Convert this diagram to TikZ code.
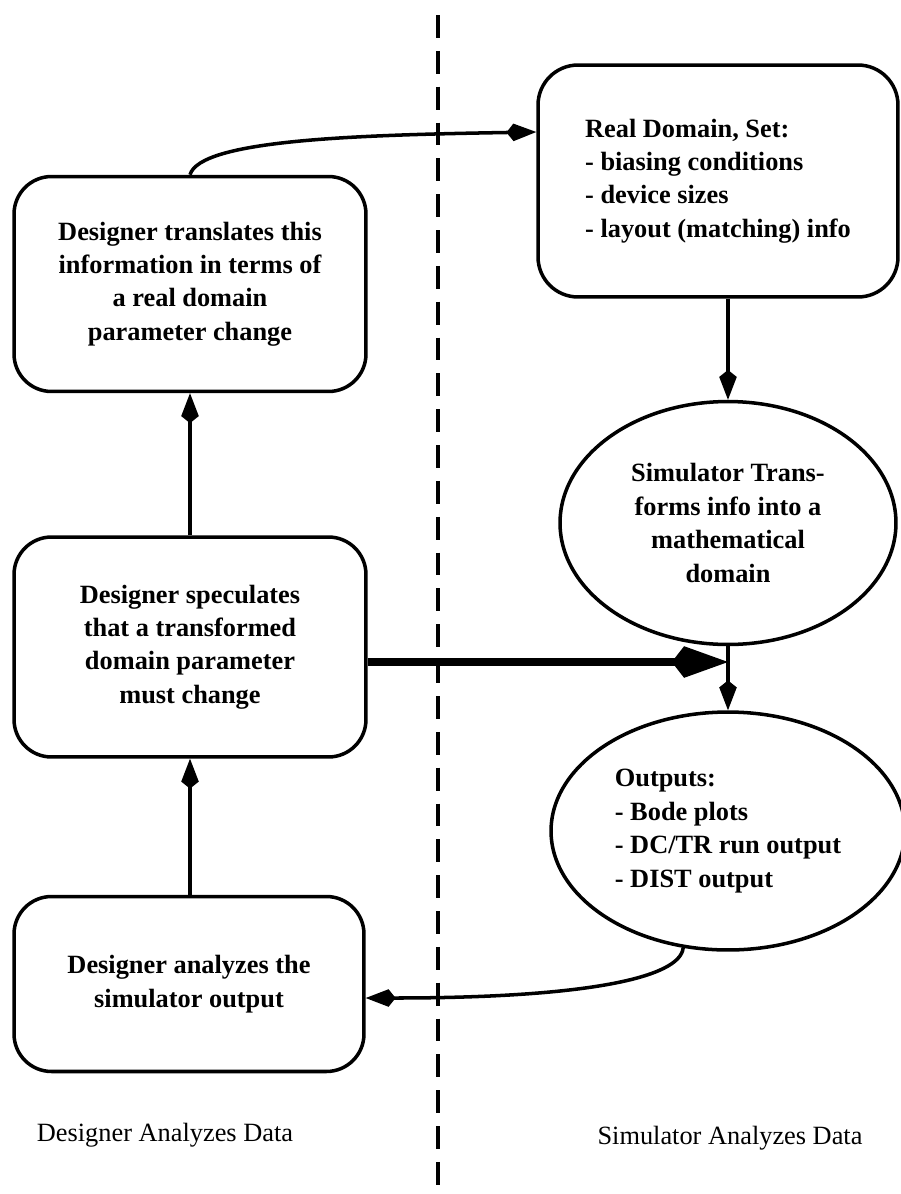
\documentclass[tikz,border=0pt]{standalone}
\usepackage{fontspec}
\setmainfont{Liberation Serif}
\usetikzlibrary{shapes.geometric, arrows.meta, positioning, calc}

\begin{document}
\begin{tikzpicture}[
  x=0.02cm, y=-0.02cm,
  stepbox/.style={draw, line width=2pt, rounded corners=0.75cm, align=center, inner sep=0pt, font=\fontsize{15}{19}\selectfont\bfseries},
  oval/.style={draw, ellipse, line width=2pt, inner sep=0pt, font=\fontsize{15}{19}\selectfont\bfseries},
  arrow/.style={-{Kite[length=17pt, width=10pt, inset=4pt]}, line width=2pt},
  bigarrow/.style={-{Kite[length=32pt, width=18pt, inset=7pt]}, line width=4pt},
  divider/.style={line width=2.3pt, dash pattern=on 13pt off 7.4pt},
  side/.style={font=\fontsize{15}{19}\selectfont}]
  \useasboundingbox[fill=white] (0,0) rectangle (900,1194);
  % left column: designer
  \node[stepbox, minimum width=7.04cm, minimum height=4.3cm] (trans) at (190,284) {Designer translates this\\information in terms of\\a real domain\\parameter change};
  \node[stepbox, minimum width=7.04cm, minimum height=4.4cm] (spec) at (190,647) {Designer speculates\\that a transformed\\domain parameter\\must change};
  \node[stepbox, minimum width=7.0cm, minimum height=3.5cm] (anal) at (189,984) {Designer analyzes the\\simulator output};
  % right column: simulator
  \node[stepbox, rounded corners=0.8cm, align=left, minimum width=7.2cm, minimum height=4.64cm] (real) at (718,181) {Real Domain, Set:\\- biasing conditions\\- device sizes\\- layout (matching) info};
  \node[oval, align=center, minimum width=6.72cm, minimum height=4.86cm] (xform) at (728,523) {Simulator Trans-\\forms info into a\\mathematical\\domain};
  \node[oval, align=left, minimum width=7.08cm, minimum height=4.76cm] (outs) at (728,831) {Outputs:\\- Bode plots\\- DC/TR run output\\- DIST output};
  % column titles
  \node[side] (dlabel) at (165,1135) {Designer Analyzes Data};
  \node[side] (slabel) at (730,1138) {Simulator Analyzes Data};
  % divider
  \coordinate (divtop) at (438,15);
  \coordinate (divbot) at (438,1194);
  \draw[divider] (divtop) -- (divbot);
  % connectors
  \coordinate (realin) at ($(real.west)+(0,-49)$);
  \coordinate (join) at (728,662);
  \coordinate (analin) at ($(anal.east)+(0,14)$);
  \draw[arrow] (trans.north) .. controls +(10,-35) and +(-180,3) .. (realin);
  \draw[arrow] (real.south -| xform.north) -- (xform.north);
  \draw[arrow] (xform.south) -- (outs.north);
  \draw[bigarrow] (spec.east |- join) -- (join);
  \draw[arrow] (spec.north) -- (trans.south);
  \draw[arrow] (anal.north -| spec.south) -- (spec.south);
  \draw[arrow] (outs.249) .. controls +(-3,30) and +(220,0) .. (analin);
\end{tikzpicture}
\end{document}
